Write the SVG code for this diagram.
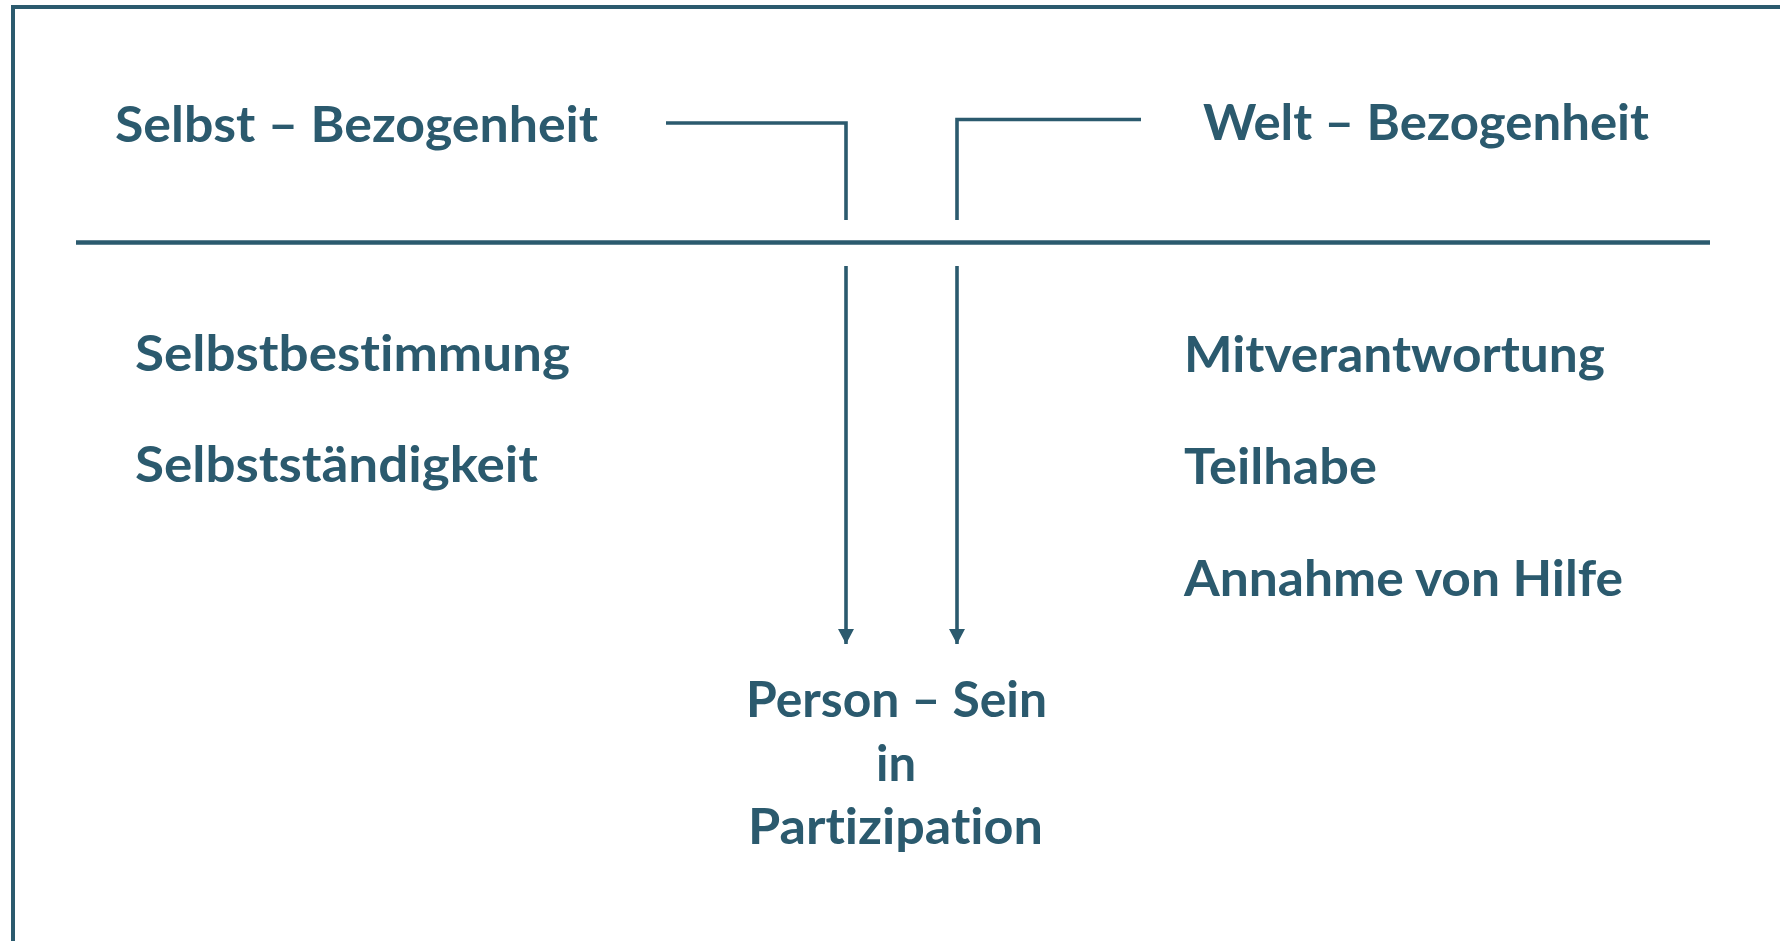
<svg xmlns="http://www.w3.org/2000/svg" width="1780" height="941" viewBox="0 0 1780 941">
<style>
.t{font-family:Lato,"Open Sans","Liberation Sans",sans-serif;font-weight:700;font-size:49px;fill:#2b5a6e;font-variant-ligatures:none;font-feature-settings:"liga" 0,"dlig" 0}
.ln{fill:none;stroke:#2b5a6e;stroke-width:3.6}
.fr{fill:none;stroke:#2b5a6e;stroke-width:4}
</style>
<defs>
<marker id="ah" markerUnits="userSpaceOnUse" markerWidth="16" markerHeight="16" viewBox="0 0 16 16" refX="8" refY="15" orient="0">
<polygon points="0,0 16,0 8,15" fill="#2b5a6e"/>
</marker>
</defs>
<rect width="1780" height="941" fill="#ffffff"/>
<path class="fr" d="M13,945 V7 H1785"/>
<line x1="76" y1="242.5" x2="1710" y2="242.5" stroke="#2b5a6e" stroke-width="4.6"/>
<g id="connectors">
<path class="ln" d="M666,123 H846 V220"/>
<path class="ln" d="M1141,119.5 H957 V220"/>
<line class="ln" x1="846" y1="266" x2="846" y2="644" marker-end="url(#ah)"/>
<line class="ln" x1="957" y1="266" x2="957" y2="644" marker-end="url(#ah)"/>
</g>
<g id="selbst-bezogenheit"><text class="t" x="115" y="142" textLength="483" lengthAdjust="spacingAndGlyphs">Selbst – Bezogenheit</text></g>
<g id="welt-bezogenheit"><text class="t" x="1203" y="140" textLength="446" lengthAdjust="spacingAndGlyphs">Welt – Bezogenheit</text></g>
<g id="selbstbestimmung"><text class="t" x="135" y="371" textLength="435" lengthAdjust="spacingAndGlyphs">Selbstbestimmung</text></g>
<g id="selbststaendigkeit"><text class="t" x="135" y="482" textLength="403" lengthAdjust="spacingAndGlyphs">Selbstständigkeit</text></g>
<g id="mitverantwortung"><text class="t" x="1184" y="372" textLength="421" lengthAdjust="spacingAndGlyphs">Mitverantwortung</text></g>
<g id="teilhabe"><text class="t" x="1184" y="484" textLength="193" lengthAdjust="spacingAndGlyphs">Teilhabe</text></g>
<g id="annahme"><text class="t" x="1184" y="596" textLength="439" lengthAdjust="spacingAndGlyphs">Annahme von Hilfe</text></g>
<g id="person-sein">
<text class="t" x="746" y="717" textLength="301" lengthAdjust="spacingAndGlyphs">Person – Sein</text>
<text class="t" x="896" y="781" text-anchor="middle">in</text>
<text class="t" x="748" y="844" textLength="295" lengthAdjust="spacingAndGlyphs">Partizipation</text>
</g>
</svg>
